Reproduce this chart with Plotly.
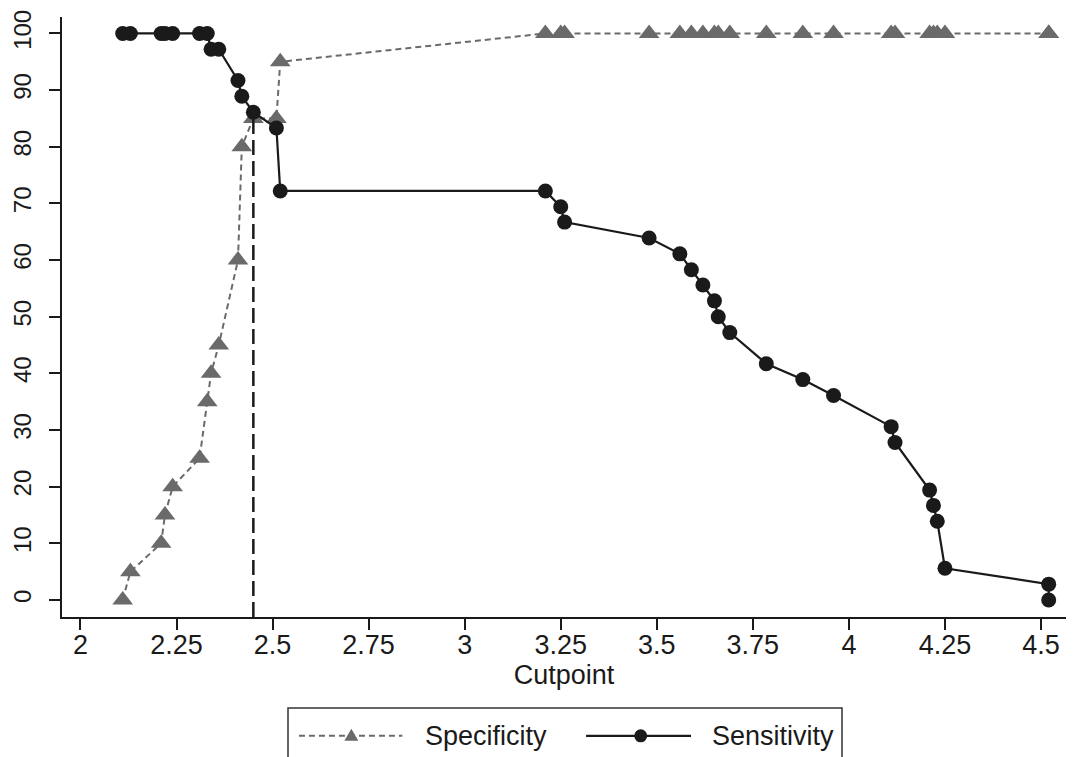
import plotly.graph_objects as go

# ---- data ----
cutpoints = [2.11, 2.13, 2.21, 2.22, 2.24, 2.31, 2.33, 2.34, 2.36, 2.41, 2.42, 2.45,
             2.51, 2.52, 3.21, 3.25, 3.26, 3.48, 3.56, 3.59, 3.62, 3.65, 3.66, 3.69,
             3.785, 3.88, 3.96, 4.11, 4.12, 4.21, 4.22, 4.23, 4.25, 4.52, 4.52]
sensitivity = [100, 100, 100, 100, 100, 100, 100, 97.2, 97.2, 91.7, 88.9, 86.1,
               83.3, 72.2, 72.2, 69.4, 66.7, 63.9, 61.1, 58.3, 55.6, 52.8, 50.0, 47.2,
               41.7, 38.9, 36.1, 30.6, 27.8, 19.4, 16.7, 13.9, 5.6, 2.8, 0.0]
specificity = [0, 5, 10, 15, 20, 25, 35, 40, 45, 60, 80, 85,
               85, 95, 100, 100, 100, 100, 100, 100, 100, 100, 100, 100,
               100, 100, 100, 100, 100, 100, 100, 100, 100, 100, 100]
optimal_cutpoint = 2.45
optimal_value = 86.1
x_ticks = [2, 2.25, 2.5, 2.75, 3, 3.25, 3.5, 3.75, 4, 4.25, 4.5]
x_tick_labels = ["2", "2.25", "2.5", "2.75", "3", "3.25", "3.5", "3.75", "4", "4.25", "4.5"]
y_ticks = [0, 10, 20, 30, 40, 50, 60, 70, 80, 90, 100]
series_names = ["Specificity", "Sensitivity"]

FONT = "Liberation Sans, Arial, Helvetica, sans-serif"
GREY = "#6a6a6a"
BLACK = "#1a1a1a"
SPEC_DASH = "6px,4px"

fig = go.Figure()
fig.add_trace(go.Scatter(
    x=cutpoints, y=specificity, name=series_names[0], mode="lines+markers",
    line=dict(color=GREY, width=2, dash=SPEC_DASH),
    marker=dict(symbol="triangle-up", size=18, color=GREY),
    showlegend=False,
))
fig.add_trace(go.Scatter(
    x=cutpoints, y=sensitivity, name=series_names[1], mode="lines+markers",
    line=dict(color=BLACK, width=2.2),
    marker=dict(symbol="circle", size=15, color=BLACK),
    showlegend=False,
))

y_range = [-3.0, 102.9]
fig.add_shape(type="line", xref="x", yref="y",
              x0=optimal_cutpoint, x1=optimal_cutpoint, y0=y_range[0], y1=optimal_value,
              line=dict(color=BLACK, width=2.5, dash="15px,6px"))

# ---- legend drawn below the plot (Stata style, long line samples) ----
leg_y = -0.198
fig.add_shape(type="rect", xref="paper", yref="paper",
              x0=0.2251, x1=0.7769, y0=-0.26, y1=-0.1517,
              line=dict(color="#333333", width=1.5), fillcolor="rgba(0,0,0,0)")
fig.add_shape(type="line", xref="paper", yref="paper",
              x0=0.236, x1=0.339, y0=leg_y, y1=leg_y,
              line=dict(color=GREY, width=2, dash=SPEC_DASH))
fig.add_shape(type="path", xref="paper", yref="paper",
              xsizemode="pixel", ysizemode="pixel", xanchor=0.2882, yanchor=leg_y,
              path="M -7 -5 L 7 -5 L 0 7 Z", fillcolor=GREY, line=dict(width=0))
fig.add_shape(type="line", xref="paper", yref="paper",
              x0=0.522, x1=0.6265, y0=leg_y, y1=leg_y,
              line=dict(color=BLACK, width=2.2))
fig.add_shape(type="circle", xref="paper", yref="paper",
              xsizemode="pixel", ysizemode="pixel", xanchor=0.5764, yanchor=leg_y,
              x0=-6.5, x1=6.5, y0=-6.5, y1=6.5, fillcolor=BLACK, line=dict(width=0))
fig.add_annotation(text=series_names[0], xref="paper", yref="paper",
                   x=0.3596, y=leg_y, xanchor="left", yanchor="middle",
                   showarrow=False, font=dict(size=27, color=BLACK))
fig.add_annotation(text=series_names[1], xref="paper", yref="paper",
                   x=0.6454, y=leg_y, xanchor="left", yanchor="middle",
                   showarrow=False, font=dict(size=27, color=BLACK))

fig.update_layout(
    width=1080, height=757,
    margin=dict(l=54, r=22, t=9, b=148),
    paper_bgcolor="white", plot_bgcolor="white",
    font=dict(family=FONT, size=27, color=BLACK),
    showlegend=False,
    xaxis=dict(range=[1.952, 4.565], tickvals=x_ticks, ticktext=x_tick_labels,
               showline=True, linecolor=BLACK, linewidth=1.5, mirror=False,
               ticks="outside", ticklen=11, tickwidth=1.5, tickcolor=BLACK,
               showgrid=False, zeroline=False, automargin=False,
               tickfont=dict(size=27), ticklabelstandoff=-8,
               title=dict(text="Cutpoint", font=dict(size=27), standoff=0)),
    yaxis=dict(range=y_range, tickvals=y_ticks, tickangle=-90,
               showline=True, linecolor=BLACK, linewidth=1.5,
               ticks="outside", ticklen=11, tickwidth=1.5, tickcolor=BLACK,
               showgrid=False, zeroline=False, automargin=False,
               tickfont=dict(size=24), ticklabelstandoff=9),
)

fig.write_html("out.html")
